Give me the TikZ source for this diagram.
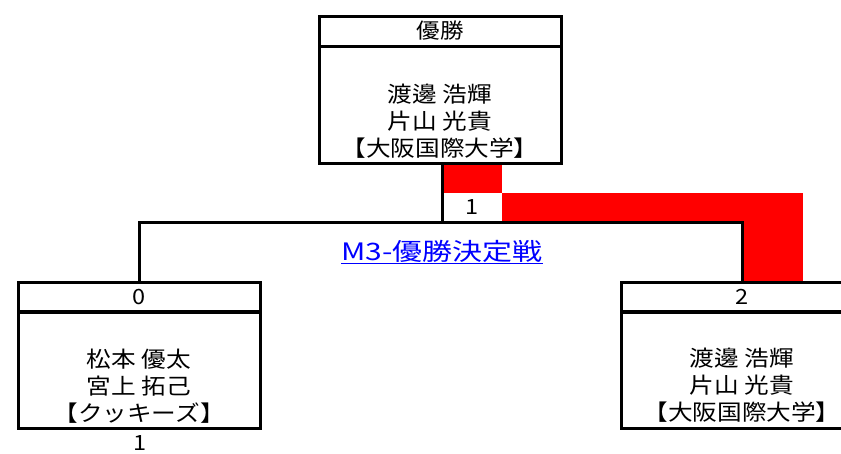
\documentclass[tikz,border=0pt]{standalone}
\usepackage{fontspec}
\setmainfont[FakeStretch=1.12]{Noto Sans CJK JP}
\newfontfamily\titlefont[FakeStretch=1.25]{Noto Sans CJK JP}
\definecolor{wred}{RGB}{255,0,0}
\definecolor{lblue}{RGB}{0,0,255}
\begin{document}
\begin{tikzpicture}[x=1pt,y=-1pt,line width=3pt,
  box/.style={draw,rectangle,inner sep=0pt,minimum width=242pt},
  hdr/.style={box,minimum height=30pt,font=\fontsize{21}{24}\selectfont},
  bodybox/.style={box,minimum height=117pt},
  names/.style={align=center,inner sep=0pt,font=\fontsize{22}{27}\selectfont},
  plain/.style={inner sep=0pt,font=\fontsize{21}{24}\selectfont},
  winfill/.style={fill=wred,draw=none}]
\useasboundingbox (0,0) rectangle (841,453);
\clip (0,0) rectangle (841,453);
% winner path (red)
\fill[winfill] (442,165) rectangle (502,193);
\fill[winfill] (502,193) rectangle (803,222);
\fill[winfill] (742,193) rectangle (803,282);
% score cell
\node[fill=white,inner sep=0pt,minimum width=60pt,minimum height=28pt,font=\fontsize{21}{24}\selectfont] (sc) at (472,207) {1};
% top box
\node[hdr] (th) at (440,31) {優勝};
\node[bodybox] (tb) at (440,105) {};
\node[names] (tt) at (440,121) {渡邊 浩輝\\片山 光貴\\【大阪国際大学】};
% left box
\node[hdr] (lh) at (139,297) {0};
\node[bodybox] (lb) at (139,370) {};
\node[names] (lt) at (139,386) {松本 優太\\宮上 拓己\\【クッキーズ】};
\node[plain] (ls) at (140,443) {1};
% right box
\node[hdr] (rh) at (742,297) {2};
\node[bodybox] (rb) at (742,370) {};
\node[names] (rt) at (742,385) {渡邊 浩輝\\片山 光貴\\【大阪国際大学】};
% connectors
\coordinate (j) at (442,222);
\draw (tb.south -| j) -- (j);
\draw (lh.north) -- (lh.north |- j) -- (rh.north |- j) -- (rh.north);
% title
\node[inner sep=0pt,text=lblue,font=\titlefont\fontsize{24}{28}\selectfont] (title) at (442,252) {\underline{M3-優勝決定戦}};
\end{tikzpicture}
\end{document}
